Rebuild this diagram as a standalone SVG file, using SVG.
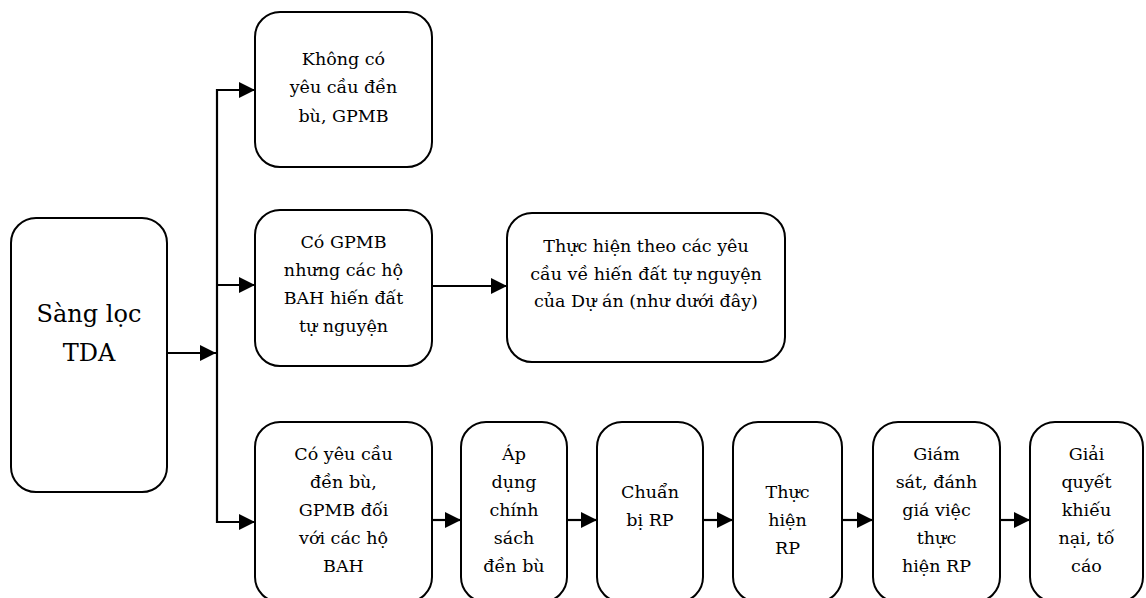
<svg xmlns="http://www.w3.org/2000/svg" width="1146" height="598" viewBox="0 0 1146 598">
<defs>
<style>
.box{fill:#fff;stroke:#000;stroke-width:2}
text{font-family:'DejaVu Serif',serif;font-size:17.5px;fill:#000;text-anchor:middle}
text.big{font-size:24px}
.ln{stroke:#000;stroke-width:2.2;fill:none}
</style>
<marker id="ah" markerWidth="16" markerHeight="16" refX="16" refY="8" orient="auto" markerUnits="userSpaceOnUse">
<path d="M0,0 L16,8 L0,16 Z" fill="#000"/>
</marker>
</defs>
<rect width="1146" height="598" fill="#fff"/>
<g id="n-sangloc">
<rect class="box" x="11" y="218" width="156" height="274" rx="25"/>
<text class="big" x="89" y="322">Sàng lọc</text>
<text class="big" x="89" y="361">TDA</text>
</g>
<g id="n-khong">
<rect class="box" x="255" y="12" width="177" height="155" rx="25"/>
<text x="343.5" y="65">Không có</text>
<text x="343.5" y="93">yêu cầu đền</text>
<text x="343.5" y="122">bù, GPMB</text>
</g>
<g id="n-hien">
<rect class="box" x="255" y="210" width="177" height="156" rx="25"/>
<text x="343.5" y="248">Có GPMB</text>
<text x="343.5" y="276">nhưng các hộ</text>
<text x="343.5" y="304">BAH hiến đất</text>
<text x="343.5" y="332">tự nguyện</text>
</g>
<g id="n-thuchien-theo">
<rect class="box" x="507" y="213" width="278" height="149" rx="25"/>
<text x="646" y="252">Thực hiện theo các yêu</text>
<text x="646" y="280">cầu về hiến đất tự nguyện</text>
<text x="646" y="307">của Dự án (như dưới đây)</text>
</g>
<g id="n-coyeucau">
<rect class="box" x="255" y="422" width="177" height="180" rx="25"/>
<text x="343.5" y="460">Có yêu cầu</text>
<text x="343.5" y="488">đền bù,</text>
<text x="343.5" y="516">GPMB đối</text>
<text x="343.5" y="544">với các hộ</text>
<text x="343.5" y="572">BAH</text>
</g>
<g id="n-apdung">
<rect class="box" x="461" y="422" width="106" height="180" rx="25"/>
<text x="514" y="460">Áp</text>
<text x="514" y="488">dụng</text>
<text x="514" y="516">chính</text>
<text x="514" y="544">sách</text>
<text x="514" y="572">đền bù</text>
</g>
<g id="n-chuanbi">
<rect class="box" x="597" y="422" width="106" height="180" rx="25"/>
<text x="650" y="498">Chuẩn</text>
<text x="650" y="526">bị RP</text>
</g>
<g id="n-thuchienrp">
<rect class="box" x="733" y="422" width="109" height="180" rx="25"/>
<text x="787.5" y="498">Thực</text>
<text x="787.5" y="526">hiện</text>
<text x="787.5" y="554">RP</text>
</g>
<g id="n-giamsat">
<rect class="box" x="873" y="422" width="127" height="180" rx="25"/>
<text x="936.5" y="460">Giám</text>
<text x="936.5" y="488">sát, đánh</text>
<text x="936.5" y="516">giá việc</text>
<text x="936.5" y="544">thực</text>
<text x="936.5" y="572">hiện RP</text>
</g>
<g id="n-giaiquyet">
<rect class="box" x="1030" y="422" width="113" height="180" rx="25"/>
<text x="1086.5" y="460">Giải</text>
<text x="1086.5" y="488">quyết</text>
<text x="1086.5" y="516">khiếu</text>
<text x="1086.5" y="544">nại, tố</text>
<text x="1086.5" y="572">cáo</text>
</g>
<g id="connectors">
<line class="ln" x1="217" y1="89" x2="217" y2="523"/>
<line class="ln" x1="167" y1="353" x2="216" y2="353" marker-end="url(#ah)"/>
<line class="ln" x1="216" y1="90" x2="255" y2="90" marker-end="url(#ah)"/>
<line class="ln" x1="216" y1="285" x2="255" y2="285" marker-end="url(#ah)"/>
<line class="ln" x1="216" y1="522" x2="255" y2="522" marker-end="url(#ah)"/>
<line class="ln" x1="432" y1="286" x2="507" y2="286" marker-end="url(#ah)"/>
<line class="ln" x1="432" y1="520" x2="461" y2="520" marker-end="url(#ah)"/>
<line class="ln" x1="567" y1="520" x2="597" y2="520" marker-end="url(#ah)"/>
<line class="ln" x1="703" y1="520" x2="733" y2="520" marker-end="url(#ah)"/>
<line class="ln" x1="842" y1="520" x2="873" y2="520" marker-end="url(#ah)"/>
<line class="ln" x1="1000" y1="520" x2="1030" y2="520" marker-end="url(#ah)"/>
</g>
</svg>
